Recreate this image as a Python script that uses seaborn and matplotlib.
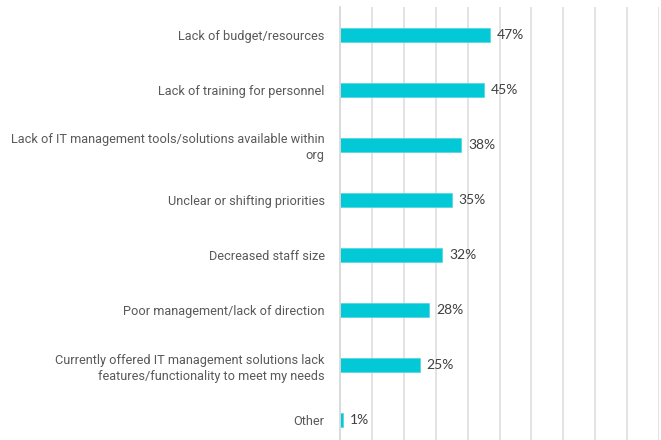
import matplotlib
matplotlib.use("Agg")
import matplotlib.pyplot as plt
import seaborn as sns
import pandas as pd
import numpy as np

categories = [
    "Lack of budget/resources",
    "Lack of training for personnel",
    "Lack of IT management tools/solutions available within\norg",
    "Unclear or shifting priorities",
    "Decreased staff size",
    "Poor management/lack of direction",
    "Currently offered IT management solutions lack\nfeatures/functionality to meet my needs",
    "Other",
]
values = [47, 45, 38, 35, 32, 28, 25, 1]

df = pd.DataFrame({"category": categories, "value": values})

sns.set_theme(style="white")
plt.rcParams["font.family"] = ["Roboto", "DejaVu Sans"]

fig = plt.figure(figsize=(6.61, 4.40), dpi=100)
ax = fig.add_axes([340 / 661, 1 - 447.5 / 440, 319 / 661, 440 / 440])

sns.barplot(data=df, y="category", x="value", orient="h", color="#03C9D7",
            width=0.25, saturation=1, edgecolor="#4FD6E0", linewidth=0.5, ax=ax)

ax.set_xlim(0, 100)
ax.set_ylim(len(categories) - 0.5, -0.5)
ax.set_xticks(np.arange(0, 101, 10))
ax.set_xticklabels([])
ax.tick_params(axis="x", length=0)
ax.grid(axis="x", color="#E0E0E0", linewidth=1.3)
ax.set_axisbelow(True)
for s in ["top", "right", "bottom"]:
    ax.spines[s].set_visible(False)
ax.spines["left"].set_color("#D9D9D9")
ax.spines["left"].set_linewidth(1.3)

ax.set_yticks(range(len(categories)))
ax.set_yticklabels(categories, fontsize=9.2, color="#595959", ha="right",
                   linespacing=1.3)
ax.tick_params(axis="y", which="major", length=0, pad=11)
ax.set_yticks(np.arange(-0.5, len(categories), 1), minor=True)
ax.tick_params(axis="y", which="minor", length=5, color="#D9D9D9", width=1)
ax.set_xlabel("")
ax.set_ylabel("")

for i, v in enumerate(values):
    ax.text(v + 2.2, i, f"{v}%", va="center", ha="left", fontsize=10,
            color="#404040", family=["Lato", "DejaVu Sans"])

fig.savefig("out.png", dpi=100)
